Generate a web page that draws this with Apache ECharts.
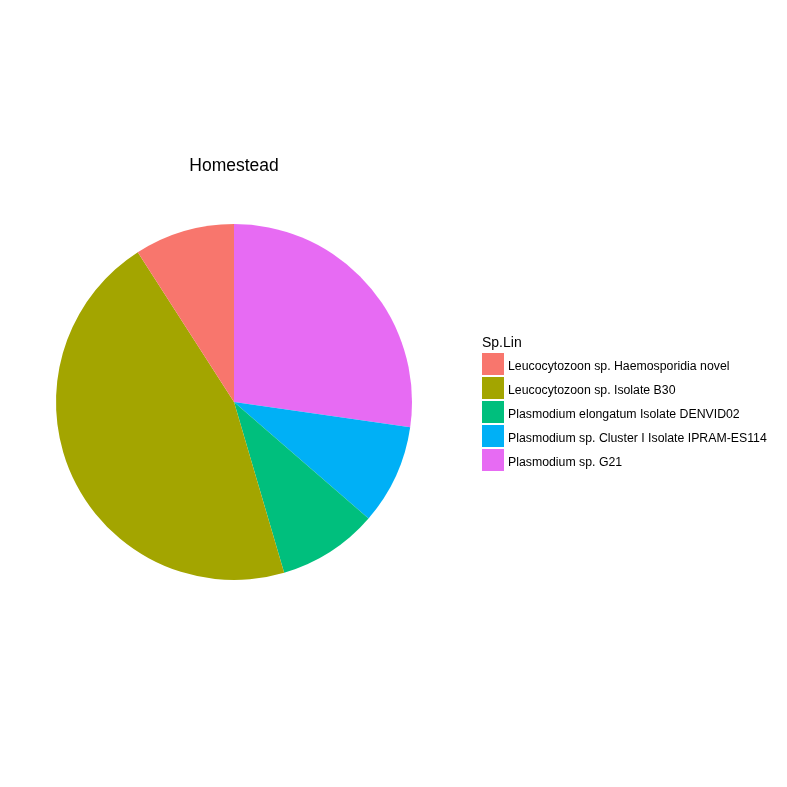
<!DOCTYPE html>
<html>
<head>
<meta charset="utf-8">
<script src="https://cdn.jsdelivr.net/npm/echarts@6/dist/echarts.min.js"></script>
<style>
  html, body { margin: 0; padding: 0; background: #fff; }
  #chart { width: 787px; height: 787px; }
</style>
</head>
<body>
<div id="chart"></div>
<script>
// legend order (factor levels)
const lineages = [
  'Leucocytozoon sp. Haemosporidia novel',
  'Leucocytozoon sp. Isolate B30',
  'Plasmodium elongatum Isolate DENVID02',
  'Plasmodium sp. Cluster I Isolate IPRAM-ES114',
  'Plasmodium sp. G21'
]
const counts = [1, 5, 1, 1, 3]
const COLORS = ['#F8766D', '#A3A500', '#00BF7D', '#00B0F6', '#E76BF3']

// ggplot stacks the last level first, going clockwise from the top
let pieData = []
for (let i = lineages.length - 1; i >= 0; i--) {
  pieData.push({
    name: lineages[i],
    value: counts[i],
    itemStyle: { color: COLORS[i] }
  })
}

let myChart = echarts.init(document.getElementById('chart'))
myChart.setOption({
  animation: false,
  title: [
    {
      text: 'Homestead',
      left: 234,
      top: 157,
      padding: 0,
      textAlign: 'center',
      textStyle: { fontFamily: 'Liberation Sans', fontSize: 17.5, fontWeight: 'normal', color: '#000' }
    },
    {
      text: 'Sp.Lin',
      left: 482,
      top: 336,
      padding: 0,
      textStyle: { fontFamily: 'Liberation Sans', fontSize: 14, fontWeight: 'normal', color: '#000' }
    }
  ],
  legend: {
    orient: 'vertical',
    left: 482,
    top: 353,
    padding: 0,
    itemWidth: 22,
    itemHeight: 22,
    itemGap: 2,
    icon: 'rect',
    selectedMode: false,
    data: lineages,
    formatter: name => `{t|${name}}`,
    textStyle: {
      fontFamily: 'Liberation Sans',
      fontSize: 12.3,
      color: '#000',
      rich: {
        t: { fontFamily: 'Liberation Sans', fontSize: 12.3, color: '#000', padding: [5, 0, 0, -1] }
      }
    }
  },
  series: [
    {
      type: 'pie',
      center: [234, 402],
      radius: [0, 178],
      startAngle: 90,
      clockwise: true,
      silent: true,
      label: { show: false },
      labelLine: { show: false },
      itemStyle: { borderWidth: 0 },
      emphasis: { disabled: true },
      data: pieData
    }
  ]
})
</script>
</body>
</html>
